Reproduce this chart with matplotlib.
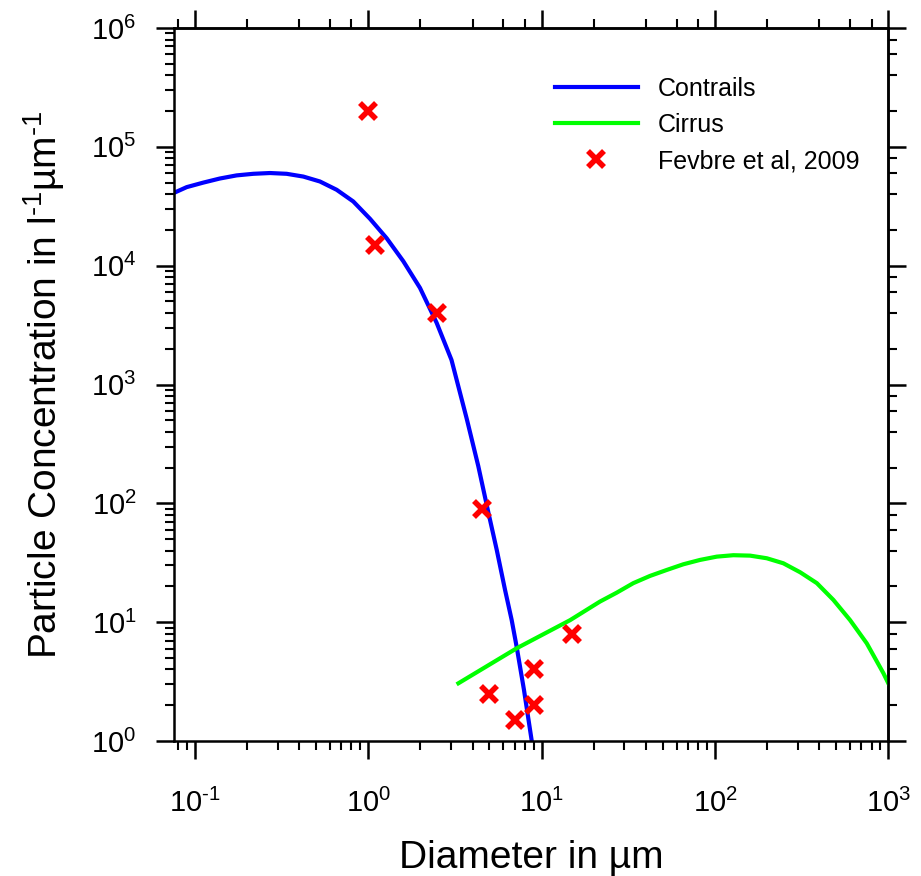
import math
import matplotlib
matplotlib.use("Agg")
import matplotlib.pyplot as plt
from matplotlib.ticker import LogLocator, NullFormatter, FuncFormatter

plt.rcParams['font.family'] = ['Liberation Sans', 'DejaVu Sans']
plt.rcParams['mathtext.fontset'] = 'custom'
plt.rcParams['mathtext.rm'] = 'Liberation Sans'
plt.rcParams['mathtext.it'] = 'Liberation Sans:italic'
plt.rcParams['mathtext.default'] = 'regular'

# Contrails size distribution
contrail_d = [0.0757, 0.0896, 0.1117, 0.139, 0.174, 0.217, 0.271, 0.338, 0.422, 0.526,
              0.657, 0.819, 1.023, 1.277, 1.592, 1.987, 2.48, 3.02, 3.70, 4.31, 4.92,
              5.51, 6.15, 6.72, 7.18, 7.91, 8.77]
contrail_n = [4.1e4, 4.58e4, 5.0e4, 5.41e4, 5.75e4, 5.93e4, 6.02e4, 5.93e4, 5.62e4, 5.11e4,
              4.35e4, 3.47e4, 2.48e4, 1.70e4, 1.09e4, 6.5e3, 3.30e3, 1.61e3, 513, 206, 84.7,
              40.5, 18.7, 10.4, 6.18, 2.69, 1.0]

# Cirrus size distribution
cirrus_d = [3.31, 7.18, 14.6, 21.7, 27.1, 33.8, 42.2, 52.7, 65.7, 82.0, 102.4, 127.7,
            159.5, 199, 248, 310, 387, 482, 602, 751, 937, 1000]
cirrus_n = [3.06, 6.03, 10.4, 14.9, 17.7, 21.3, 24.5, 27.5, 30.7, 33.4, 35.6, 36.6,
            36.3, 34.5, 31.3, 26.3, 21.3, 15.4, 10.4, 6.64, 3.72, 3.06]

# Fevbre et al, 2009 observations
obs_d = [1.0, 1.1, 2.5, 4.5, 15, 9, 5, 9, 7]
obs_n = [2e5, 1.5e4, 4e3, 90, 8, 4, 2.5, 2, 1.5]


def pow10_label(v, pos):
    e = int(round(math.log10(v)))
    if e < 0:
        return r'$10^{\text{-}%d}$' % (-e)
    return r'$10^{%d}$' % e


fig = plt.figure(figsize=(9.21, 8.76), dpi=100)
ax = fig.add_axes([174/921, 1-741/876, (888.3-174)/921, (741-28)/876])

ax.plot(contrail_d, contrail_n, color=(0, 0, 1), lw=3, label='Contrails',
        solid_joinstyle='round')
ax.plot(cirrus_d, cirrus_n, color=(0, 1, 0), lw=3, label='Cirrus',
        solid_joinstyle='round')
ax.plot(obs_d, obs_n, ls='none', marker='x', color=(1, 0, 0), ms=11, mew=4,
        label='Fevbre et al, 2009')

ax.set_xscale('log')
ax.set_yscale('log')
ax.set_xlim(0.0757, 1000)
ax.set_ylim(1, 1e6)

for axis in (ax.xaxis, ax.yaxis):
    axis.set_major_locator(LogLocator(base=10, numticks=20))
    axis.set_minor_locator(LogLocator(base=10, subs=range(2, 10), numticks=20))
    axis.set_major_formatter(FuncFormatter(pow10_label))
    axis.set_minor_formatter(NullFormatter())

ax.tick_params(which='both', direction='out', top=False, right=False, width=1.5, color='black')
ax.tick_params(which='major', length=13, width=1.8)
ax.tick_params(which='minor', length=6.5)
ax.tick_params(axis='x', which='major', labelsize=21, pad=21.5)
ax.tick_params(axis='y', which='major', labelsize=21, pad=14)
for s in ax.spines.values():
    s.set_linewidth(1.8)

# top and right axes: minor ticks only at 2, 4, 6, 8
secx = ax.secondary_xaxis('top')
secy = ax.secondary_yaxis('right')
for sec, axis in ((secx, secx.xaxis), (secy, secy.yaxis)):
    axis.set_major_locator(LogLocator(base=10, numticks=20))
    axis.set_minor_locator(LogLocator(base=10, subs=[2, 4, 6, 8], numticks=20))
    axis.set_minor_formatter(NullFormatter())
    sec.tick_params(which='both', direction='out', width=1.5, color='black',
                    labeltop=False, labelright=False)
    sec.tick_params(which='major', length=13, width=1.8)
    sec.tick_params(which='minor', length=6.5)
    for s in sec.spines.values():
        s.set_linewidth(1.8)

ax.set_xlabel('Diameter in µm', fontsize=28, labelpad=16)
ax.set_ylabel(r'Particle Concentration in l$^{\text{-}1}$µm$^{\text{-}1}$', fontsize=28,
              labelpad=17)

leg = ax.legend(loc='upper left', bbox_to_anchor=((555-174)/714.3, 1-(77-28)/713),
                frameon=False, fontsize=18, handlelength=3.3, handletextpad=0.8,
                labelspacing=0.48, borderpad=0, borderaxespad=0)

fig.savefig('out.png', dpi=100)
